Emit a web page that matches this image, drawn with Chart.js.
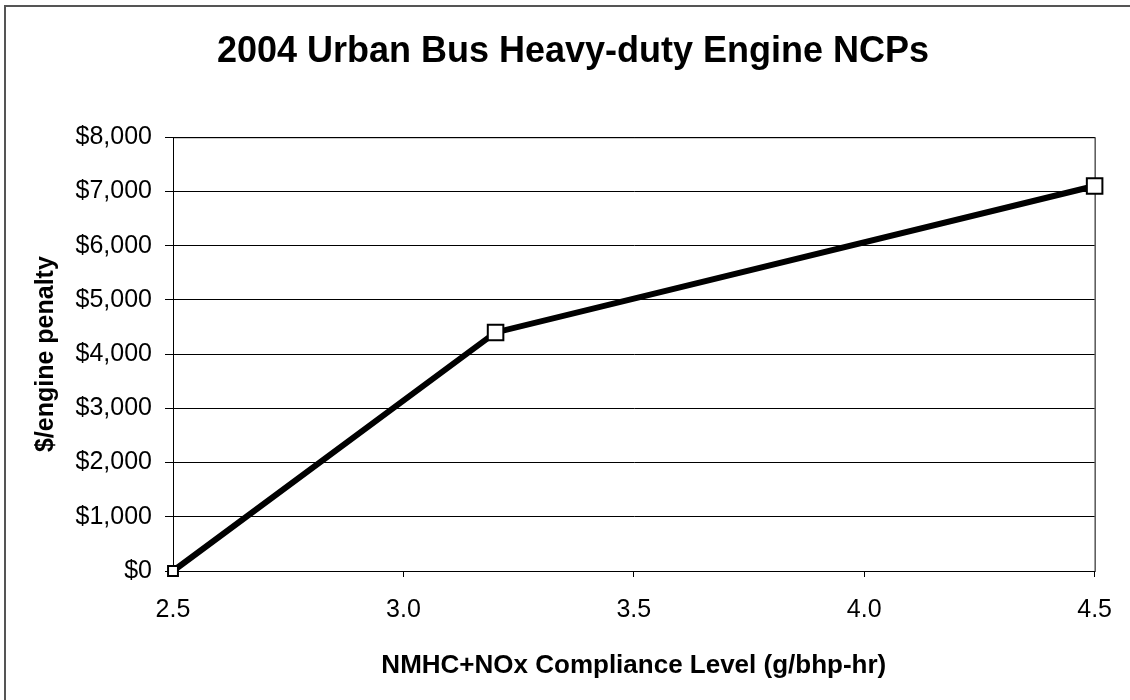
<!DOCTYPE html>
<html>
<head>
<meta charset="utf-8">
<script src="https://cdn.jsdelivr.net/npm/chart.js@4"></script>
<style>
  html, body { margin: 0; padding: 0; background: #fff; }
  #wrap { width: 1130px; height: 700px; }
</style>
</head>
<body>
<div id="wrap"><canvas id="grafico" width="1130" height="700"></canvas></div>
<script>
// compliance level (g/bhp-hr) and penalty ($ per engine)
const complianceLevels = [2.5, 3.2, 4.5];
const penalties = [0, 4400, 7100];
const xTicks = [2.5, 3.0, 3.5, 4.0, 4.5];
const yTicks = [0, 1000, 2000, 3000, 4000, 5000, 6000, 7000, 8000];

const FONT = "'Liberation Sans', Arial, sans-serif";

// frame round the whole picture, like the Excel chart area border
const moldura = {
  id: 'moldura',
  beforeDraw(chart) {
    const c = chart.ctx;
    c.save();
    c.fillStyle = '#fff';
    c.fillRect(0, 0, chart.width, chart.height);
    c.strokeStyle = '#555';
    c.lineWidth = 2;
    c.beginPath();
    c.moveTo(5, chart.height);
    c.lineTo(5, 6);
    c.lineTo(chart.width, 6);
    c.stroke();
    c.restore();
  }
};

// plot area border (drawn under the data)
const bordaPlot = {
  id: 'bordaPlot',
  beforeDatasetsDraw(chart) {
    const a = chart.chartArea;
    const c = chart.ctx;
    c.save();
    c.strokeStyle = '#000';
    c.lineWidth = 1;
    c.strokeRect(a.left + 0.5, a.top + 0.5, a.right - a.left, a.bottom - a.top);
    c.restore();
  }
};

const ctx = document.getElementById('grafico').getContext('2d');

new Chart(ctx, {
  type: 'scatter',
  data: {
    datasets: [{
      label: 'NCP',
      data: complianceLevels.map((x, i) => ({ x: x, y: penalties[i] })),
      showLine: true,
      borderColor: '#000',
      borderWidth: 6,
      pointStyle: 'rect',
      pointRadius: [7, 11, 11],
      pointBackgroundColor: '#fff',
      pointBorderColor: '#000',
      pointBorderWidth: 2,
      clip: false
    }]
  },
  options: {
    responsive: false,
    animation: false,
    layout: { autoPadding: false, padding: { left: 46, right: 30, top: 0, bottom: 0 } },
    plugins: {
      legend: { display: false },
      tooltip: { enabled: false },
      title: {
        display: true,
        text: '2004 Urban Bus Heavy-duty Engine NCPs',
        color: '#000',
        font: { family: FONT, size: 36, weight: 'bold', lineHeight: 1.2 },
        padding: { top: 30, bottom: 64 }
      }
    },
    scales: {
      x: {
        type: 'linear',
        min: 2.5,
        max: 4.5,
        afterBuildTicks(scale) { scale.ticks = xTicks.map(v => ({ value: v })); },
        afterFit(scale) { scale.height = 129; },
        border: { display: true, color: '#000', width: 1 },
        grid: { drawOnChartArea: false, drawTicks: true, tickLength: 6, color: '#000' },
        ticks: {
          color: '#000',
          padding: 18,
          maxRotation: 0,
          font: { family: FONT, size: 25 },
          callback: v => Number(v).toFixed(1)
        },
        title: {
          display: true,
          text: 'NMHC+NOx Compliance Level (g/bhp-hr)',
          color: '#000',
          font: { family: FONT, size: 26, weight: 'bold', lineHeight: 1.2 },
          padding: { top: 0, bottom: 19 }
        }
      },
      y: {
        min: 0,
        max: 8000,
        afterBuildTicks(scale) { scale.ticks = yTicks.map(v => ({ value: v })); },
        afterFit(scale) { scale.width = 127; },
        border: { display: true, color: '#000', width: 1 },
        grid: { color: '#000', lineWidth: 1, drawTicks: true, tickLength: 8 },
        ticks: {
          color: '#000',
          padding: 13,
          font: { family: FONT, size: 25 },
          callback: v => '$' + Number(v).toLocaleString('en-US')
        },
        title: {
          display: true,
          text: '$/engine penalty',
          color: '#000',
          font: { family: FONT, size: 25, weight: 'bold', lineHeight: 1.2 },
          padding: { top: -15, bottom: 0 }
        }
      }
    }
  },
  plugins: [moldura, bordaPlot]
});
</script>
</body>
</html>
